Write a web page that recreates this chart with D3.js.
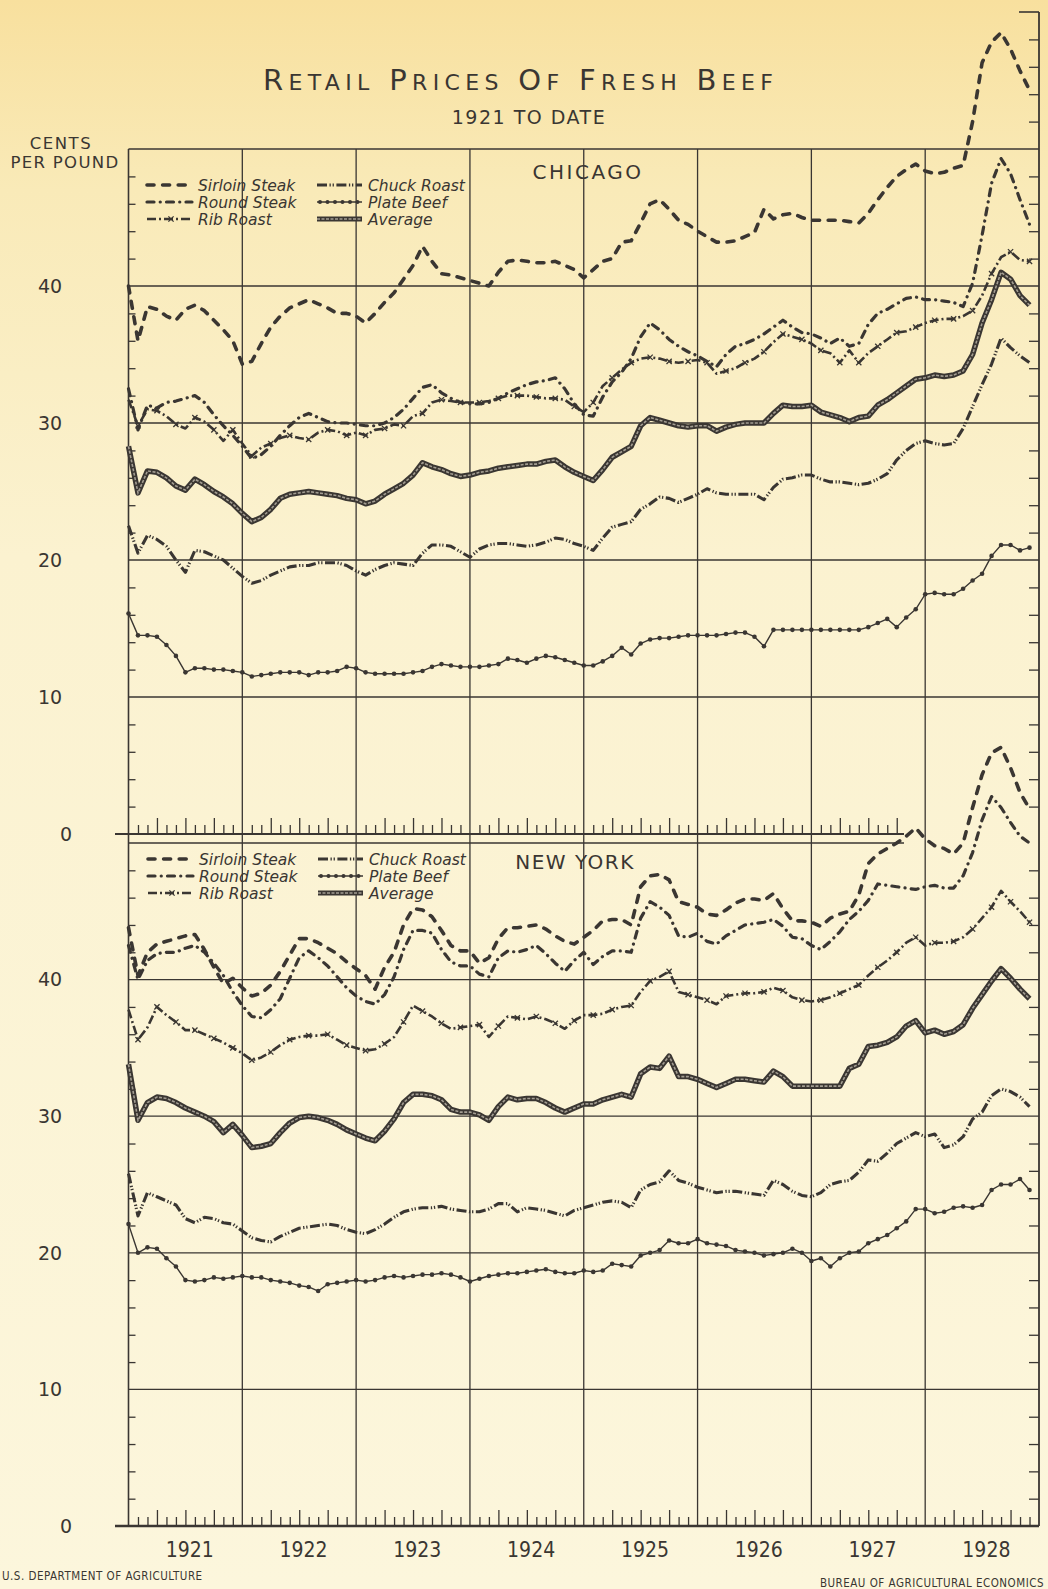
<!DOCTYPE html>
<html>
<head>
<meta charset="utf-8">
<title>Retail Prices of Fresh Beef</title>
<script src="https://cdn.jsdelivr.net/npm/d3@7"></script>
<style>
  body { margin: 0; background: #fbf2d2; }
  svg { display: block; }
</style>
</head>
<body>
<div id="chart"></div>
<script>
// Monthly retail prices, cents per pound, Jan 1921 .. Dec 1928
const years = ["1921", "1922", "1923", "1924", "1925", "1926", "1927", "1928"];

const chicagoSirloin = [
  40.0, 36.0, 38.5, 38.3, 37.8, 37.5, 38.3, 38.6, 38.2, 37.5, 36.8, 36.0,
  34.3, 34.5, 35.8, 37.0, 37.8, 38.4, 38.7, 39.0, 38.7, 38.4, 38.0, 38.0,
  37.8, 37.3, 38.0, 38.8, 39.5, 40.5, 41.5, 42.9, 41.8, 40.9, 40.8, 40.6,
  40.4, 40.2, 40.0, 41.0, 41.8, 41.9, 41.8, 41.7, 41.7, 41.8, 41.5, 41.2,
  40.6, 41.2, 41.8, 42.0, 43.2, 43.3, 44.6, 46.0, 46.3, 45.6, 44.8, 44.5,
  44.0, 43.6, 43.2, 43.2, 43.3, 43.6, 43.9, 45.6, 44.9, 45.2, 45.3, 45.0,
  44.8, 44.8, 44.8, 44.8, 44.7, 44.6, 45.3, 46.3, 47.2, 48.0, 48.5, 48.9,
  48.4, 48.2, 48.3, 48.6, 48.8, 52.0, 56.3, 57.8, 58.5, 57.3, 55.7, 54.3
];
const chicagoRound = [
  32.5, 29.5, 31.3, 31.1, 31.5, 31.6, 31.8, 32.0, 31.5, 30.6, 29.8, 29.1,
  28.3, 27.4, 27.7, 28.3, 29.1, 29.8, 30.4, 30.7, 30.4, 30.1, 30.0, 30.0,
  29.9, 29.8, 29.8, 30.0, 30.4, 31.0, 31.8, 32.6, 32.8, 32.2, 31.8, 31.5,
  31.4, 31.4, 31.5, 31.8, 32.2, 32.5, 32.8, 33.0, 33.1, 33.3, 32.5, 31.4,
  30.6, 30.5, 31.9, 33.0, 33.7, 34.7, 36.3, 37.3, 36.8, 36.1, 35.6, 35.2,
  34.9, 34.5, 34.1, 35.0, 35.6, 35.8, 36.1, 36.5, 37.0, 37.5, 37.0, 36.6,
  36.5, 36.2, 35.8, 36.2, 35.6, 35.8, 37.2, 38.0, 38.3, 38.7, 39.1, 39.2,
  39.0, 39.0, 38.9, 38.8, 38.5, 40.2, 43.7, 47.5, 49.3, 48.2, 46.3, 44.5
];
const chicagoRib = [
  31.7, 29.8, 31.0, 30.9, 30.5, 29.9, 29.6, 30.4, 30.1, 29.5, 28.7, 29.5,
  28.5, 27.6, 28.2, 28.5, 28.9, 29.1, 28.9, 28.8, 29.3, 29.5, 29.4, 29.1,
  29.3, 29.1, 29.5, 29.6, 29.9, 29.8, 30.5, 30.7, 31.5, 31.7, 31.6, 31.5,
  31.5, 31.5, 31.6, 31.8, 32.0, 32.0, 32.0, 31.9, 31.8, 31.8, 31.7, 31.2,
  30.8, 31.5, 32.7, 33.3, 33.9, 34.4, 34.7, 34.8, 34.7, 34.5, 34.4, 34.5,
  34.6, 34.4, 33.6, 33.8, 34.0, 34.4, 34.7, 35.2, 35.9, 36.5, 36.3, 36.1,
  35.8, 35.3, 35.1, 34.4, 35.3, 34.4, 35.1, 35.6, 36.1, 36.6, 36.7, 37.0,
  37.3, 37.5, 37.6, 37.6, 37.8, 38.2, 39.3, 40.9, 42.1, 42.5, 41.9, 41.8
];
const chicagoChuck = [
  22.5, 20.5, 21.8, 21.5, 21.0, 20.0, 19.1, 20.7, 20.6, 20.3, 20.0, 19.4,
  18.8, 18.3, 18.5, 18.9, 19.2, 19.5, 19.6, 19.6, 19.8, 19.8, 19.8, 19.6,
  19.2, 18.9, 19.3, 19.6, 19.8, 19.7, 19.6, 20.5, 21.1, 21.1, 21.0, 20.6,
  20.2, 20.8, 21.1, 21.2, 21.2, 21.1, 21.0, 21.1, 21.3, 21.6, 21.5, 21.2,
  21.0, 20.7, 21.6, 22.4, 22.6, 22.8, 23.7, 24.1, 24.6, 24.5, 24.2, 24.5,
  24.8, 25.2, 24.9, 24.8, 24.8, 24.8, 24.8, 24.4, 25.3, 25.9, 26.0, 26.2,
  26.2, 25.9, 25.7, 25.7, 25.6, 25.5, 25.6, 25.9, 26.3, 27.3, 28.0, 28.5,
  28.7, 28.5, 28.4, 28.5, 29.6, 31.2, 32.8, 34.3, 36.2, 35.5, 34.9, 34.4
];
const chicagoPlate = [
  16.1, 14.5, 14.5, 14.4, 13.8, 13.0, 11.8, 12.1, 12.1, 12.0, 12.0, 11.9,
  11.8, 11.5, 11.6, 11.7, 11.8, 11.8, 11.8, 11.6, 11.8, 11.8, 11.9, 12.2,
  12.1, 11.8, 11.7, 11.7, 11.7, 11.7, 11.8, 11.9, 12.2, 12.4, 12.3, 12.2,
  12.2, 12.2, 12.3, 12.4, 12.8, 12.7, 12.5, 12.8, 13.0, 12.9, 12.7, 12.5,
  12.3, 12.3, 12.6, 13.0, 13.6, 13.1, 13.9, 14.2, 14.3, 14.3, 14.4, 14.5,
  14.5, 14.5, 14.5, 14.6, 14.7, 14.7, 14.4, 13.7, 14.9, 14.9, 14.9, 14.9,
  14.9, 14.9, 14.9, 14.9, 14.9, 14.9, 15.1, 15.4, 15.7, 15.1, 15.8, 16.4,
  17.5, 17.6, 17.5, 17.5, 17.9, 18.5, 19.0, 20.3, 21.1, 21.1, 20.7, 20.9
];
const chicagoAverage = [
  28.3, 24.9, 26.5, 26.4, 26.0, 25.4, 25.1, 25.9, 25.5, 25.0, 24.6, 24.1,
  23.4, 22.8, 23.1, 23.7, 24.5, 24.8, 24.9, 25.0, 24.9, 24.8, 24.7, 24.5,
  24.4, 24.1, 24.3, 24.8, 25.2, 25.6, 26.2, 27.1, 26.8, 26.6, 26.3, 26.1,
  26.2, 26.4, 26.5, 26.7, 26.8, 26.9, 27.0, 27.0, 27.2, 27.3, 26.8, 26.4,
  26.1, 25.8, 26.6, 27.5, 27.9, 28.3, 29.8, 30.4, 30.2, 30.0, 29.8, 29.7,
  29.8, 29.8, 29.4, 29.7, 29.9, 30.0, 30.0, 30.0, 30.7, 31.3, 31.2, 31.2,
  31.3, 30.8, 30.6, 30.4, 30.1, 30.4, 30.5, 31.3, 31.7, 32.2, 32.7, 33.2,
  33.3, 33.5, 33.4, 33.5, 33.8, 35.0, 37.3, 39.0, 41.0, 40.5, 39.3, 38.6
];

const newYorkSirloin = [
  43.8, 40.3, 42.0, 42.6, 42.8, 43.0, 43.2, 43.3, 42.2, 40.9, 39.7, 40.1,
  39.4, 38.8, 39.0, 39.6, 40.6, 41.8, 43.0, 43.0, 42.7, 42.3, 41.9, 41.3,
  40.8, 40.3, 39.3, 40.9, 42.0, 44.0, 45.2, 45.1, 44.6, 43.6, 42.5, 42.1,
  42.1, 41.2, 41.6, 43.0, 43.8, 43.8, 43.9, 44.0, 43.7, 43.2, 42.8, 42.6,
  43.1, 43.6, 44.3, 44.4, 44.4, 44.0, 46.8, 47.6, 47.7, 47.3, 45.7, 45.5,
  45.3, 44.8, 44.7, 45.1, 45.6, 45.9, 45.9, 45.8, 46.3, 45.2, 44.3, 44.3,
  44.2, 43.9, 44.5, 44.8, 45.0, 46.2, 48.5, 49.2, 49.6, 50.0, 50.5, 51.1,
  50.3, 49.8, 49.6, 49.2, 50.0, 52.6, 55.0, 56.6, 57.0, 55.5, 53.7, 52.5
];
const newYorkRound = [
  42.5, 40.0, 41.4, 41.9, 42.0, 42.0, 42.3, 42.5, 42.0, 41.2, 40.3, 39.1,
  38.1, 37.3, 37.2, 37.8, 38.6, 40.1, 41.6, 42.1, 41.6, 41.0, 40.2, 39.4,
  38.8, 38.4, 38.2, 38.9, 40.2, 42.2, 43.6, 43.6, 43.4, 42.2, 41.3, 41.0,
  41.0, 40.4, 40.2, 41.6, 42.1, 42.0, 42.2, 42.5, 41.9, 41.2, 40.6, 41.4,
  42.0, 41.1, 41.7, 42.1, 42.1, 42.0, 44.5, 45.7, 45.3, 44.7, 43.2, 43.1,
  43.4, 42.8, 42.6, 43.2, 43.6, 44.0, 44.1, 44.2, 44.4, 43.9, 43.1, 43.0,
  42.5, 42.2, 42.8, 43.5, 44.4, 45.0, 45.8, 47.0, 46.9, 46.8, 46.7, 46.6,
  46.8, 46.9, 46.7, 46.7, 47.6, 49.3, 51.7, 53.4, 52.6, 51.5, 50.5, 50.0
];
const newYorkRib = [
  37.8, 35.6, 36.5, 38.0, 37.4, 36.9, 36.3, 36.3, 36.0, 35.7, 35.4, 35.0,
  34.6, 34.1, 34.3, 34.7, 35.2, 35.6, 35.8, 35.9, 35.9, 36.0, 35.6, 35.2,
  35.0, 34.8, 34.9, 35.3, 35.8, 36.9, 38.1, 37.7, 37.3, 36.8, 36.4, 36.5,
  36.6, 36.7, 35.8, 36.6, 37.3, 37.2, 37.1, 37.3, 37.1, 36.8, 36.4, 37.0,
  37.4, 37.4, 37.5, 37.8, 38.0, 38.1, 39.1, 39.9, 40.2, 40.6, 39.1, 38.9,
  38.7, 38.5, 38.2, 38.8, 38.9, 39.0, 39.0, 39.1, 39.4, 39.2, 38.7, 38.5,
  38.4, 38.5, 38.7, 39.0, 39.3, 39.6, 40.3, 40.9, 41.4, 42.0, 42.7, 43.1,
  42.5, 42.7, 42.7, 42.8, 43.1, 43.7, 44.5, 45.3, 46.5, 45.7, 45.0, 44.2
];
const newYorkChuck = [
  25.8, 22.7, 24.4, 24.1, 23.8, 23.5, 22.5, 22.2, 22.6, 22.5, 22.2, 22.1,
  21.6, 21.1, 20.9, 20.8, 21.2, 21.5, 21.8, 21.9, 22.0, 22.1, 22.0, 21.7,
  21.5, 21.4, 21.7, 22.1, 22.6, 23.0, 23.2, 23.3, 23.3, 23.4, 23.2, 23.1,
  23.0, 23.0, 23.2, 23.6, 23.6, 23.0, 23.3, 23.2, 23.1, 22.9, 22.7, 23.1,
  23.3, 23.5, 23.7, 23.8, 23.7, 23.3, 24.6, 25.0, 25.2, 26.0, 25.3, 25.1,
  24.8, 24.6, 24.4, 24.5, 24.5, 24.4, 24.3, 24.2, 25.3, 25.0, 24.5, 24.2,
  24.1, 24.4, 25.0, 25.2, 25.3, 25.9, 26.8, 26.7, 27.3, 28.0, 28.4, 28.8,
  28.5, 28.7, 27.7, 27.9, 28.5, 29.8, 30.3, 31.5, 32.0, 31.8, 31.4, 30.7
];
const newYorkPlate = [
  22.1, 20.0, 20.4, 20.3, 19.6, 19.0, 18.0, 17.9, 18.0, 18.2, 18.1, 18.2,
  18.3, 18.2, 18.2, 18.0, 17.9, 17.8, 17.6, 17.5, 17.2, 17.7, 17.8, 17.9,
  18.0, 17.9, 18.0, 18.2, 18.3, 18.2, 18.3, 18.4, 18.4, 18.5, 18.4, 18.2,
  17.9, 18.1, 18.3, 18.4, 18.5, 18.5, 18.6, 18.7, 18.8, 18.6, 18.5, 18.5,
  18.7, 18.6, 18.7, 19.2, 19.1, 19.0, 19.8, 20.0, 20.2, 20.9, 20.7, 20.7,
  21.0, 20.7, 20.6, 20.5, 20.2, 20.1, 20.0, 19.8, 19.9, 20.0, 20.3, 20.0,
  19.4, 19.6, 19.0, 19.6, 20.0, 20.1, 20.7, 21.0, 21.3, 21.8, 22.3, 23.2,
  23.2, 22.9, 23.0, 23.3, 23.4, 23.3, 23.5, 24.6, 25.0, 25.0, 25.4, 24.6
];
const newYorkAverage = [
  33.8, 29.7, 31.0, 31.4, 31.3, 31.0, 30.6, 30.3, 30.0, 29.6, 28.8, 29.4,
  28.6, 27.7, 27.8, 28.0, 28.8, 29.5, 29.9, 30.0, 29.9, 29.7, 29.4, 29.0,
  28.7, 28.4, 28.2, 28.9, 29.8, 31.0, 31.6, 31.6, 31.5, 31.2, 30.5, 30.3,
  30.3, 30.1, 29.7, 30.7, 31.4, 31.2, 31.3, 31.3, 31.0, 30.6, 30.3, 30.6,
  30.9, 30.9, 31.2, 31.4, 31.6, 31.4, 33.1, 33.6, 33.5, 34.4, 32.9, 32.9,
  32.7, 32.4, 32.1, 32.4, 32.7, 32.7, 32.6, 32.5, 33.3, 32.9, 32.2, 32.2,
  32.2, 32.2, 32.2, 32.2, 33.5, 33.8, 35.1, 35.2, 35.4, 35.8, 36.6, 37.0,
  36.1, 36.3, 36.0, 36.2, 36.7, 37.9, 38.9, 39.9, 40.8, 40.1, 39.3, 38.6
];

const yLabels = [0, 10, 20, 30, 40];
const legendNames = [["Sirloin Steak", "Chuck Roast"], ["Round Steak", "Plate Beef"], ["Rib Roast", "Average"]];
const legendKinds = [["sirloin", "chuck"], ["round", "plate"], ["rib", "average"]];

const WIDTH = 1048, HEIGHT = 1589;
const INK = "#3a3632";
const FONT = "'DejaVu Sans', 'Liberation Sans', sans-serif";

const svg = d3.select("#chart").append("svg")
  .attr("width", WIDTH)
  .attr("height", HEIGHT);

// yellowed paper
const defs = svg.append("defs");
const paper = defs.append("linearGradient").attr("id", "paper")
  .attr("x1", 0).attr("y1", 0).attr("x2", 0).attr("y2", 1);
paper.append("stop").attr("offset", "0%").attr("stop-color", "#f8e09e");
paper.append("stop").attr("offset", "12%").attr("stop-color", "#f9eab8");
paper.append("stop").attr("offset", "35%").attr("stop-color", "#fbf2d0");
paper.append("stop").attr("offset", "100%").attr("stop-color", "#fcf6dc");
svg.append("rect").attr("width", WIDTH).attr("height", HEIGHT).attr("fill", "url(#paper)");

// scales: month index 0 = Jan 1921
const x = d3.scaleLinear().domain([0, 96]).range([128.5, 1039]);
const yChicago = d3.scaleLinear().domain([0, 50]).range([834, 149]);
const yNewYork = d3.scaleLinear().domain([0, 50]).range([1526, 843]);

// round caps eat into the gaps, so dash lengths are shorter than they look
const styles = {
  sirloin: { dash: "7,8.6", width: 3.6, cap: "round" },
  round: { dash: "7,6.2,0.1,6.2", width: 3.2, cap: "round" },
  rib: { dash: "9,3,2,3", width: 2.6, cap: "butt" },
  chuck: { dash: "10,2.5,1.3,1.8,1.3,2.5", width: 3.1, cap: "butt" },
  plate: { dash: null, width: 1.4, cap: "butt" },
  average: { dash: null, width: 5.5, cap: "butt" }
};

const frame = svg.append("g").attr("stroke", INK).attr("fill", "none");

function hline(y, x1, x2, w) {
  frame.append("line").attr("x1", x1).attr("x2", x2).attr("y1", y).attr("y2", y).attr("stroke-width", w);
}

// horizontal grid
[10, 20, 30, 40].forEach(v => {
  hline(yChicago(v), x(0), x(96), 1.3);
  hline(yNewYork(v), x(0), x(96), 1.3);
});
hline(yChicago(50), x(0), x(96), 1.4);
hline(yNewYork(50), x(0), 904, 1.4);
hline(yChicago(0), 115, 904, 2.2);
hline(yNewYork(0), 115, x(96), 2.4);

// year lines
d3.range(12, 96, 12).forEach(m => {
  frame.append("line").attr("x1", x(m)).attr("x2", x(m))
    .attr("y1", yChicago(50)).attr("y2", yNewYork(0)).attr("stroke-width", 1.3);
});
// left and right axes
frame.append("line").attr("x1", x(0)).attr("x2", x(0))
  .attr("y1", yChicago(50)).attr("y2", yNewYork(0)).attr("stroke-width", 1.6);
frame.append("line").attr("x1", x(96)).attr("x2", x(96))
  .attr("y1", yChicago(60)).attr("y2", yNewYork(0)).attr("stroke-width", 1.8);
hline(yChicago(60), x(96) - 20, x(96), 1.6);

// 2-cent ticks
function centTicks(scale, values, side, size) {
  const axis = side === "left" ? d3.axisRight(scale) : d3.axisLeft(scale);
  svg.append("g")
    .attr("transform", `translate(${side === "left" ? x(0) : x(96)},0)`)
    .call(axis.tickValues(values).tickSize(size).tickFormat(""))
    .call(g => g.select(".domain").remove())
    .call(g => g.selectAll("line").attr("stroke", INK).attr("stroke-width", 1.3));
}
const evens = d3.range(2, 50, 2).filter(v => v % 10 !== 0);
centTicks(yChicago, evens, "left", 7);
centTicks(yNewYork, evens, "left", 7);
centTicks(yChicago, evens.concat([52, 54, 56, 58]), "right", 10);
centTicks(yNewYork, evens, "right", 10);

// month ticks on both baselines
function monthTicks(y, last) {
  const months = d3.range(1, last + 1).filter(m => m % 12 !== 0);
  const quarter = months.filter(m => m % 3 === 0);
  const other = months.filter(m => m % 3 !== 0);
  [[quarter, 16], [other, 9]].forEach(([vals, size]) => {
    svg.append("g")
      .attr("transform", `translate(0,${y})`)
      .call(d3.axisTop(x).tickValues(vals).tickSize(size).tickFormat(""))
      .call(g => g.select(".domain").remove())
      .call(g => g.selectAll("line").attr("stroke", INK).attr("stroke-width", 1.3));
  });
}
monthTicks(yChicago(0), 81);
monthTicks(yNewYork(0), 95);

// value labels
function valueLabels(scale) {
  svg.append("g").selectAll("text").data(yLabels).join("text")
    .attr("x", d => d === 0 ? 66 : 50)
    .attr("y", d => scale(d))
    .attr("dy", "0.36em")
    .attr("text-anchor", "middle")
    .attr("font-family", FONT)
    .attr("font-size", 19)
    .attr("fill", INK)
    .text(d => d);
}
valueLabels(yChicago);
valueLabels(yNewYork);

// year labels
svg.append("g")
  .attr("transform", `translate(0,${yNewYork(0)})`)
  .call(d3.axisBottom(x).tickValues(d3.range(6.4, 96, 12)).tickSize(0).tickPadding(16)
    .tickFormat((d, i) => years[i]))
  .call(g => g.select(".domain").remove())
  .call(g => g.selectAll("text")
    .attr("font-family", "'Liberation Sans Narrow', 'DejaVu Sans Condensed', sans-serif")
    .attr("font-size", 21).attr("fill", INK));

// series
function drawSeries(values, y, kind) {
  const line = d3.line().x((d, i) => x(i)).y(d => y(d));
  const g = svg.append("g");
  const s = styles[kind];
  g.append("path").datum(values)
    .attr("d", line)
    .attr("fill", "none")
    .attr("stroke", INK)
    .attr("stroke-width", s.width)
    .attr("stroke-linejoin", "round")
    .attr("stroke-linecap", s.cap)
    .attr("stroke-dasharray", s.dash);
  if (kind === "average") {
    g.append("path").datum(values)
      .attr("d", line)
      .attr("fill", "none")
      .attr("stroke", "#a39d92")
      .attr("stroke-width", 1.6)
      .attr("stroke-dasharray", "3,1.5");
  }
  if (kind === "plate") {
    g.selectAll("circle").data(values).join("circle")
      .attr("cx", (d, i) => x(i))
      .attr("cy", d => y(d))
      .attr("r", 2.3)
      .attr("fill", INK);
  }
  if (kind === "rib") {
    g.selectAll("path.cross").data(values.map((v, i) => [i, v]).filter(d => d[0] % 2 === 1))
      .join("path").attr("class", "cross")
      .attr("transform", d => `translate(${x(d[0])},${y(d[1])})`)
      .attr("d", "M-2.6,-2.6L2.6,2.6M-2.6,2.6L2.6,-2.6")
      .attr("stroke", INK)
      .attr("stroke-width", 1.3);
  }
}

[
  [chicagoPlate, "plate"], [chicagoChuck, "chuck"], [chicagoAverage, "average"],
  [chicagoRib, "rib"], [chicagoRound, "round"], [chicagoSirloin, "sirloin"]
].forEach(([v, k]) => drawSeries(v, yChicago, k));
[
  [newYorkPlate, "plate"], [newYorkChuck, "chuck"], [newYorkAverage, "average"],
  [newYorkRib, "rib"], [newYorkRound, "round"], [newYorkSirloin, "sirloin"]
].forEach(([v, k]) => drawSeries(v, yNewYork, k));

// legends
function legend(top, dx) {
  const g = svg.append("g");
  legendNames.forEach((row, r) => {
    row.forEach((name, c) => {
      const kind = legendKinds[r][c];
      const s = styles[kind];
      const sx = (c === 0 ? 147 : 317) + dx;
      const cy = top + r * 17;
      const seg = d3.line()([[sx, cy], [sx + 45, cy]]);
      g.append("path").attr("d", seg).attr("stroke", INK)
        .attr("stroke-width", kind === "average" ? 5 : s.width)
        .attr("stroke-linecap", s.cap)
        .attr("stroke-dasharray", s.dash);
      if (kind === "average") {
        g.append("path").attr("d", seg).attr("stroke", "#a39d92")
          .attr("stroke-width", 1.5).attr("stroke-dasharray", "3,1.5");
      }
      if (kind === "plate") {
        g.selectAll(null).data(d3.range(sx + 3, sx + 46, 7.5)).join("circle")
          .attr("cx", d => d).attr("cy", cy).attr("r", 2).attr("fill", INK);
      }
      if (kind === "rib") {
        g.append("path").attr("transform", `translate(${sx + 24},${cy})`)
          .attr("d", "M-2.6,-2.6L2.6,2.6M-2.6,2.6L2.6,-2.6")
          .attr("stroke", INK).attr("stroke-width", 1.3);
      }
      g.append("text")
        .attr("x", sx + 51)
        .attr("y", cy)
        .attr("dy", "0.36em")
        .attr("font-family", FONT)
        .attr("font-style", "italic")
        .attr("font-size", 15.5)
        .attr("fill", INK)
        .text(name);
    });
  });
}
legend(185, 0);
legend(859, 1);

// titles and notes
const text = (t, xx, yy, size, opts = {}) => svg.append("text")
  .attr("x", xx).attr("y", yy)
  .attr("font-family", opts.family || FONT)
  .attr("font-size", size)
  .attr("text-anchor", opts.anchor || "middle")
  .attr("letter-spacing", opts.spacing || 0)
  .attr("fill", INK)
  .text(t);

// small-caps title
const title = svg.append("text")
  .attr("x", 518).attr("y", 90)
  .attr("text-anchor", "middle")
  .attr("font-family", FONT)
  .attr("fill", INK)
  .attr("textLength", 510)
  .attr("lengthAdjust", "spacing");
["RETAIL", "PRICES", "OF", "FRESH", "BEEF"].forEach((w, i) => {
  title.append("tspan").attr("font-size", 29).text((i ? " " : "") + w[0]);
  title.append("tspan").attr("font-size", 22).text(w.slice(1));
});

text("1921 TO DATE", 529, 124, 19, { spacing: 1.5 });
text("CENTS", 61, 149, 16.5, { spacing: 1.5 });
text("PER POUND", 65, 168, 16.5, { spacing: 1.3 });
text("CHICAGO", 588, 179, 20, { spacing: 2.5 });
text("NEW YORK", 575, 869, 20, { spacing: 1.5 });

text("U.S. DEPARTMENT OF AGRICULTURE", 2, 1580, 11.5,
  { anchor: "start", family: "'DejaVu Sans Condensed', sans-serif", spacing: 0.5 });
text("BUREAU OF AGRICULTURAL ECONOMICS", 1044, 1587, 11.5,
  { anchor: "end", family: "'DejaVu Sans Condensed', sans-serif", spacing: 0.5 });
</script>
</body>
</html>
